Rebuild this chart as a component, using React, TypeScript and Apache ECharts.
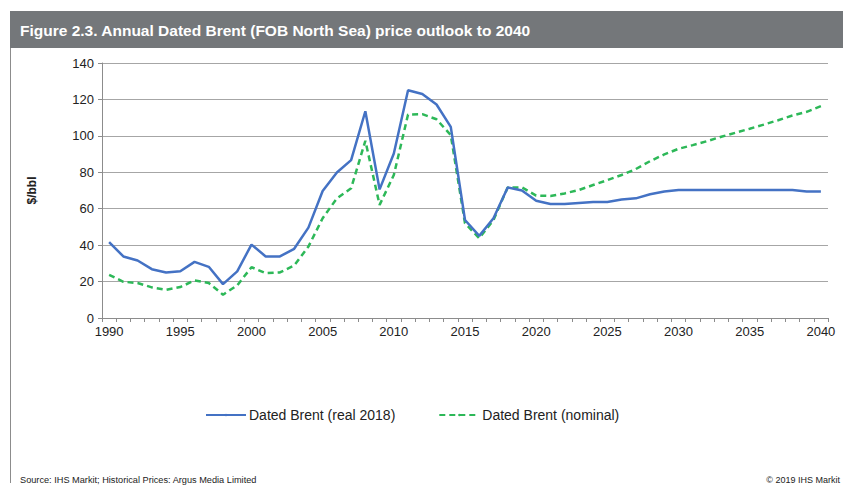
import React, { useEffect, useRef } from "react";
import * as echarts from "echarts";

const years: string[] = [];
for (let y = 1990; y <= 2040; y++) years.push(String(y));

const realPrices = [
  41.6, 33.8, 31.6, 26.8, 25.0, 25.7, 30.8, 28.1, 18.6, 25.6,
  40.3, 33.8, 33.8, 38.0, 49.6, 69.7, 79.9, 86.7, 113.5, 70.6,
  90.3, 125.0, 123.0, 117.2, 104.9, 53.8, 45.1, 54.8, 71.7, 70.0,
  64.4, 62.6, 62.6, 63.2, 63.7, 63.7, 65.0, 65.7, 67.9, 69.4,
  70.3, 70.3, 70.3, 70.3, 70.3, 70.3, 70.3, 70.3, 70.3, 69.5, 69.5,
];

const nominalPrices = [
  23.7, 19.9, 19.2, 16.8, 15.5, 17.0, 20.6, 19.2, 12.8, 17.9,
  27.9, 24.6, 25.0, 28.8, 39.2, 54.8, 65.7, 71.2, 97.3, 62.1,
  78.5, 111.7, 111.9, 109.1, 100.4, 52.0, 43.8, 53.8, 71.7, 71.7,
  67.2, 67.0, 68.4, 70.3, 73.0, 75.7, 78.5, 81.8, 86.1, 89.8,
  92.9, 94.9, 97.1, 99.5, 101.7, 103.9, 106.2, 108.6, 111.2, 113.2, 116.3,
];

const seriesNames = ["Dated Brent (real 2018)", "Dated Brent (nominal)"];
const titleText = "Figure 2.3. Annual Dated Brent (FOB North Sea) price outlook to 2040";
const sourceText = "Source: IHS Markit; Historical Prices: Argus Media Limited";
const copyrightText = "© 2019 IHS Markit";
const yAxisName = "$/bbl";

const SANS = '"Liberation Sans", Arial, sans-serif';

export default function App() {
  const ref = useRef<HTMLDivElement>(null);
  useEffect(() => {
    if (!ref.current) return;
    const chart = echarts.init(ref.current, undefined, { renderer: "svg" });
    chart.setOption({
      animation: false,
      backgroundColor: "#ffffff",
      grid: { left: 102, right: 15, top: 63, bottom: 169, containLabel: false },
      legend: {
        left: 205,
        top: 408,
        padding: 0,
        itemWidth: 40,
        itemHeight: 3,
        itemGap: 43,
        textStyle: { fontFamily: SANS, fontSize: 14, color: "#222", padding: [0, 0, 0, -2] },
        data: seriesNames,
      },
      xAxis: {
        type: "category",
        data: years,
        boundaryGap: true,
        axisLine: { show: true, lineStyle: { color: "#8c8c8c", width: 1 } },
        axisTick: { show: true, interval: 0, length: 4, alignWithLabel: false, lineStyle: { color: "#8c8c8c" } },
        axisLabel: { interval: 4, color: "#222", fontFamily: SANS, fontSize: 13, margin: 7 },
        splitLine: { show: false },
      },
      yAxis: {
        type: "value",
        min: 0,
        max: 140,
        interval: 20,
        name: yAxisName,
        nameLocation: "middle",
        nameRotate: 90,
        nameGap: 64,
        nameTextStyle: { fontFamily: SANS, fontSize: 12, fontWeight: "bold", color: "#222" },
        axisLine: { show: true, lineStyle: { color: "#8c8c8c", width: 1 } },
        axisTick: { show: true, length: 4, lineStyle: { color: "#8c8c8c" } },
        axisLabel: { color: "#222", fontFamily: SANS, fontSize: 13, margin: 8 },
        splitLine: { show: true, lineStyle: { color: "#a6a6a6", width: 1 } },
      },
      series: [
        {
          name: seriesNames[0],
          type: "line",
          data: realPrices,
          symbol: "none",
          lineStyle: { color: "#4472c4", width: 2.5 },
          itemStyle: { color: "#4472c4" },
          z: 3,
        },
        {
          name: seriesNames[1],
          type: "line",
          data: nominalPrices,
          symbol: "none",
          lineStyle: { color: "#2db858", width: 2.5, type: [6, 4] },
          itemStyle: { color: "#2db858" },
          z: 2,
        },
      ],
      graphic: [
        {
          type: "rect",
          shape: { x: 10, y: 11, width: 833, height: 37 },
          style: { fill: "#74777a" },
          silent: true,
        },
        {
          type: "line",
          shape: { x1: 10.5, y1: 48, x2: 10.5, y2: 483 },
          style: { stroke: "#8c8c8c", lineWidth: 1 },
          silent: true,
        },
        {
          type: "text",
          x: 20,
          y: 30,
          style: {
            text: titleText,
            fill: "#ffffff",
            font: `bold 15.5px ${SANS}`,
            verticalAlign: "middle",
          },
          silent: true,
        },
        {
          type: "text",
          x: 20,
          y: 480,
          style: {
            text: sourceText,
            fill: "#222",
            font: `9.2px ${SANS}`,
            verticalAlign: "middle",
          },
          silent: true,
        },
        {
          type: "text",
          x: 840,
          y: 480,
          style: {
            text: copyrightText,
            fill: "#222",
            font: `9px ${SANS}`,
            align: "right",
            verticalAlign: "middle",
          },
          silent: true,
        },
      ],
    });
    return () => chart.dispose();
  }, []);
  return (
    <div
      ref={ref}
      style={{ position: "fixed", left: 0, top: 0, width: 843, height: 487 }}
    />
  );
}
